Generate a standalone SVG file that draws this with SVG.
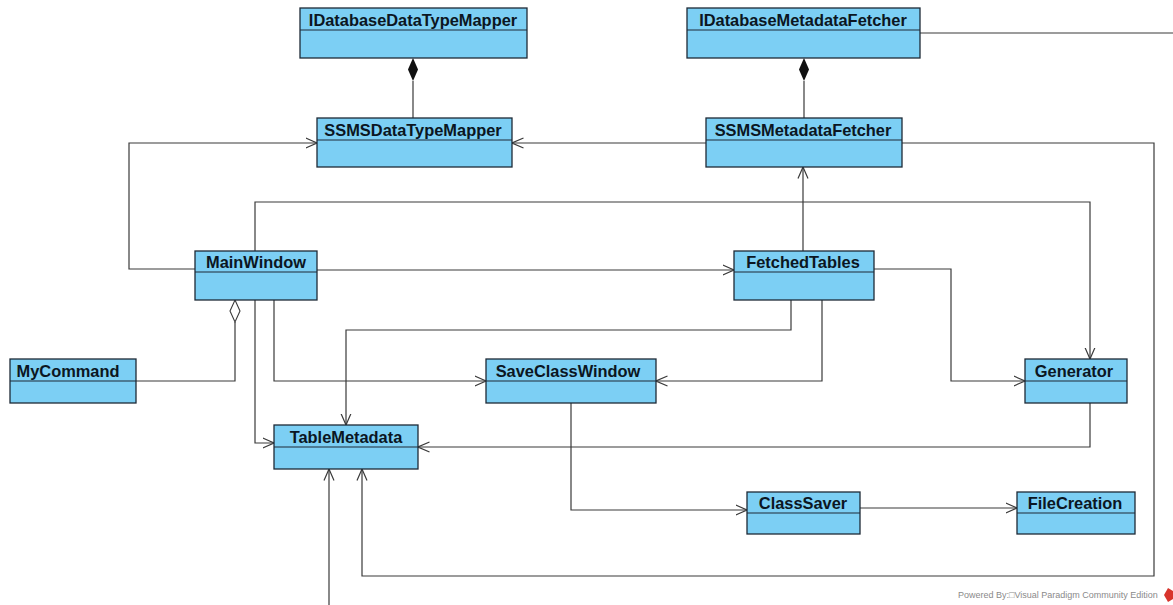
<svg xmlns="http://www.w3.org/2000/svg" width="1173" height="605" viewBox="0 0 1173 605">
<style>
.box{fill:#7ccff4;stroke:#1e2a36;stroke-width:1.3}
.div{stroke:#1e2a36;stroke-width:1.1}
.lbl{font-family:"Liberation Sans",Arial,sans-serif;font-weight:bold;font-size:16.4px;fill:#0b1622;text-anchor:middle}
.c{fill:none;stroke:#3a3a3a;stroke-width:1.2}
.pw{font-family:"Liberation Sans",Arial,sans-serif;font-size:9px;fill:#8a8a8a}
</style>
<defs>
<marker id="open" viewBox="0 0 12 12" refX="11.5" refY="6" markerWidth="12" markerHeight="12" markerUnits="userSpaceOnUse" orient="auto">
<path d="M0,1 L11.5,6 L0,11" fill="none" stroke="#3a3a3a" stroke-width="1.2"/>
</marker>
</defs>
<rect width="1173" height="605" fill="#ffffff"/>
<g id="connectors">
<path class="c" d="M413,118 V81"/>
<path d="M413,58 L418,69.5 L413,81 L408,69.5 Z" fill="#111"/>
<path class="c" d="M804,118 V81"/>
<path d="M804,58 L809,69.5 L804,81 L799,69.5 Z" fill="#111"/>
<path class="c" d="M920,33 H1173"/>
<path class="c" d="M706,143 H512" marker-end="url(#open)"/>
<path class="c" d="M902,143 H1154 V576 H362 V469" marker-end="url(#open)"/>
<path class="c" d="M195,269 H129 V143 H317" marker-end="url(#open)"/>
<path class="c" d="M255,251 V202 H1090 V359" marker-end="url(#open)"/>
<path class="c" d="M317,270 H734" marker-end="url(#open)"/>
<path class="c" d="M136,381 H235 V322"/>
<path d="M235,300 L240,311 L235,322 L230,311 Z" fill="#fff" stroke="#3a3a3a" stroke-width="1.1"/>
<path class="c" d="M255,300 V443 H274" marker-end="url(#open)"/>
<path class="c" d="M274,300 V381 H486" marker-end="url(#open)"/>
<path class="c" d="M803,251 V167" marker-end="url(#open)"/>
<path class="c" d="M874,269 H951 V381 H1025" marker-end="url(#open)"/>
<path class="c" d="M791,300 V330 H346 V425" marker-end="url(#open)"/>
<path class="c" d="M822,300 V381 H656" marker-end="url(#open)"/>
<path class="c" d="M1090,403 V447 H418" marker-end="url(#open)"/>
<path class="c" d="M571,403 V510 H747" marker-end="url(#open)"/>
<path class="c" d="M860,508 H1017" marker-end="url(#open)"/>
<path class="c" d="M329,605 V469" marker-end="url(#open)"/>
</g>
<g id="IDatabaseDataTypeMapper">
<rect class="box" x="300" y="8" width="227" height="50"/>
<line class="div" x1="300" y1="30" x2="527" y2="30"/>
<text class="lbl" x="413" y="26">IDatabaseDataTypeMapper</text>
</g>
<g id="IDatabaseMetadataFetcher">
<rect class="box" x="687" y="8" width="233" height="50"/>
<line class="div" x1="687" y1="30" x2="920" y2="30"/>
<text class="lbl" x="803" y="26">IDatabaseMetadataFetcher</text>
</g>
<g id="SSMSDataTypeMapper">
<rect class="box" x="317" y="118" width="195" height="49"/>
<line class="div" x1="317" y1="140" x2="512" y2="140"/>
<text class="lbl" x="413" y="136">SSMSDataTypeMapper</text>
</g>
<g id="SSMSMetadataFetcher">
<rect class="box" x="706" y="118" width="196" height="49"/>
<line class="div" x1="706" y1="140" x2="902" y2="140"/>
<text class="lbl" x="803" y="136">SSMSMetadataFetcher</text>
</g>
<g id="MainWindow">
<rect class="box" x="195" y="251" width="122" height="49"/>
<line class="div" x1="195" y1="272" x2="317" y2="272"/>
<text class="lbl" x="256" y="268">MainWindow</text>
</g>
<g id="FetchedTables">
<rect class="box" x="734" y="251" width="140" height="49"/>
<line class="div" x1="734" y1="272" x2="874" y2="272"/>
<text class="lbl" x="803" y="268">FetchedTables</text>
</g>
<g id="MyCommand">
<rect class="box" x="10" y="359" width="126" height="44"/>
<line class="div" x1="10" y1="381" x2="136" y2="381"/>
<text class="lbl" x="68" y="377">MyCommand</text>
</g>
<g id="SaveClassWindow">
<rect class="box" x="486" y="359" width="170" height="44"/>
<line class="div" x1="486" y1="381" x2="656" y2="381"/>
<text class="lbl" x="568" y="377">SaveClassWindow</text>
</g>
<g id="Generator">
<rect class="box" x="1025" y="359" width="102" height="44"/>
<line class="div" x1="1025" y1="381" x2="1127" y2="381"/>
<text class="lbl" x="1074" y="377">Generator</text>
</g>
<g id="TableMetadata">
<rect class="box" x="274" y="425" width="144" height="44"/>
<line class="div" x1="274" y1="447" x2="418" y2="447"/>
<text class="lbl" x="346" y="443">TableMetadata</text>
</g>
<g id="ClassSaver">
<rect class="box" x="747" y="492" width="113" height="42"/>
<line class="div" x1="747" y1="513" x2="860" y2="513"/>
<text class="lbl" x="803" y="509">ClassSaver</text>
</g>
<g id="FileCreation">
<rect class="box" x="1017" y="492" width="118" height="42"/>
<line class="div" x1="1017" y1="513" x2="1135" y2="513"/>
<text class="lbl" x="1075" y="509">FileCreation</text>
</g>
<g id="watermark">
<text class="pw" x="958" y="598">Powered By:□Visual Paradigm Community Edition</text>
<path d="M1168,588 L1173,591 L1173,599 L1168,602 L1164,595 Z" fill="#d8342c"/>
</g>
</svg>
